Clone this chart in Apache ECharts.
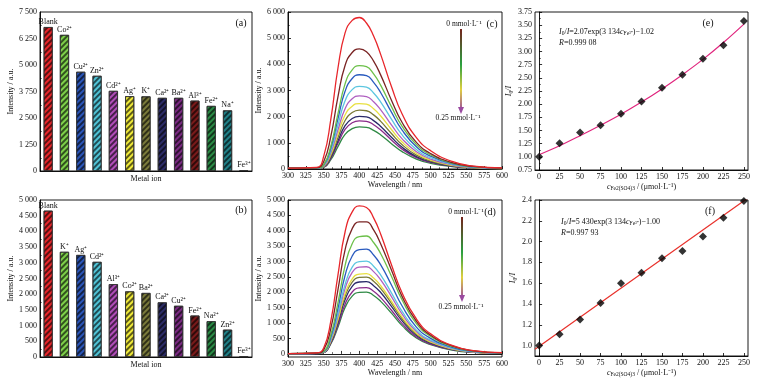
<!DOCTYPE html>
<html>
<head>
<meta charset="utf-8">
<script src="https://cdn.jsdelivr.net/npm/echarts@6/dist/echarts.min.js"></script>
<style>html,body{margin:0;padding:0;background:#fff}#chart{width:765px;height:383px}</style>
</head>
<body>
<div id="chart"></div>
<script>
// (a) / (b) interference bars
const ions_a = ['Blank', 'Co²⁺', 'Cu²⁺', 'Zn²⁺', 'Cd²⁺', 'Ag⁺', 'K⁺', 'Ca²⁺', 'Ba²⁺', 'Al³⁺', 'Fe²⁺', 'Na⁺', 'Fe³⁺']
const vals_a = [6790, 6420, 4680, 4490, 3780, 3530, 3520, 3450, 3450, 3320, 3070, 2860, 40]
const ions_b = ['Blank', 'K⁺', 'Ag⁺', 'Cd²⁺', 'Al³⁺', 'Co²⁺', 'Ba²⁺', 'Ca²⁺', 'Cu²⁺', 'Fe²⁺', 'Na²⁺', 'Zn²⁺', 'Fe³⁺']
const vals_b = [4660, 3350, 3250, 3030, 2320, 2090, 2040, 1740, 1630, 1320, 1140, 870, 20]
const bar_colors = ['#e8262b', '#7ed04a', '#2a55b8', '#4fc3d6', '#b04db8', '#f0ea3a', '#7a7a3a', '#2b2b66', '#7a2a82', '#7a1a1a', '#2a8a45', '#1f7f86', '#ffffff']

// (c) / (d) emission spectra, wavelength in nm
const wl = [300, 340, 350, 360, 370, 380, 390, 400, 410, 420, 430, 445, 460, 480, 500, 530, 560, 600]
const spec_c = [
    [30, 60, 480, 1900, 3850, 5200, 5680, 5790, 5580, 5080, 4370, 3150, 2100, 1200, 700, 290, 110, 40],
    [30, 45, 276, 1242, 2760, 3956, 4453, 4591, 4485, 4122, 3588, 2631, 1776, 1017, 589, 248, 97, 37],
    [30, 40, 159, 873, 2104, 3255, 3791, 3950, 3910, 3633, 3196, 2382, 1628, 933, 536, 226, 87, 32],
    [30, 38, 145, 796, 1919, 2968, 3457, 3602, 3566, 3312, 2914, 2172, 1484, 851, 489, 206, 80, 29],
    [30, 36, 127, 699, 1683, 2604, 3032, 3159, 3127, 2905, 2556, 1905, 1302, 746, 429, 181, 70, 25],
    [30, 35, 112, 618, 1489, 2304, 2684, 2796, 2768, 2571, 2262, 1686, 1152, 660, 379, 160, 62, 22],
    [30, 34, 101, 553, 1333, 2062, 2402, 2502, 2477, 2301, 2025, 1509, 1031, 591, 340, 143, 55, 20],
    [30, 33, 90, 497, 1198, 1853, 2158, 2249, 2226, 2068, 1819, 1356, 927, 531, 305, 129, 50, 18],
    [30, 32, 81, 444, 1071, 1656, 1929, 2010, 1990, 1848, 1626, 1212, 828, 475, 273, 115, 44, 16],
    [30, 31, 74, 407, 981, 1517, 1767, 1841, 1822, 1693, 1489, 1110, 759, 435, 250, 105, 41, 15],
    [30, 30, 65, 355, 856, 1324, 1542, 1607, 1591, 1478, 1300, 969, 662, 380, 218, 92, 36, 13]
]
const spec_d = [
    [10, 34, 193, 1063, 2560, 3961, 4613, 4806, 4758, 4419, 3888, 2898, 1980, 1135, 652, 275, 106, 39],
    [10, 28, 130, 823, 2078, 3377, 4070, 4287, 4287, 4027, 3572, 2728, 1862, 1061, 606, 260, 100, 37],
    [10, 23, 77, 616, 1656, 2868, 3581, 3812, 3831, 3619, 3253, 2522, 1752, 982, 570, 243, 92, 35],
    [10, 21, 68, 547, 1471, 2548, 3181, 3386, 3403, 3215, 2890, 2240, 1556, 872, 506, 215, 82, 31],
    [10, 18, 61, 485, 1303, 2257, 2818, 3000, 3015, 2848, 2560, 1985, 1379, 773, 448, 191, 73, 27],
    [10, 17, 57, 455, 1223, 2120, 2646, 2817, 2831, 2674, 2404, 1863, 1294, 725, 421, 179, 68, 26],
    [10, 16, 52, 419, 1127, 1952, 2437, 2594, 2607, 2463, 2214, 1716, 1192, 668, 388, 165, 63, 24],
    [10, 15, 50, 402, 1079, 1870, 2334, 2485, 2497, 2359, 2121, 1644, 1142, 640, 371, 158, 60, 23],
    [10, 14, 47, 378, 1015, 1758, 2195, 2336, 2348, 2218, 1994, 1546, 1074, 602, 349, 149, 57, 21],
    [10, 13, 43, 346, 931, 1613, 2013, 2143, 2154, 2035, 1829, 1418, 985, 552, 320, 136, 52, 19],
    [10, 12, 40, 323, 869, 1505, 1879, 2000, 2010, 1899, 1707, 1323, 919, 515, 299, 127, 48, 18]
]
const spec_colors = ['#e8262b', '#7a2424', '#6cc04a', '#2a5bbf', '#5cc6e0', '#b060c0', '#e8e040', '#7a7a36', '#2a2a6a', '#8a2a8a', '#2f8a45']

// (e) / (f) Stern-Volmer style plots, concentration in umol/L
const conc = [0, 25, 50, 75, 100, 125, 150, 175, 200, 225, 250]
const ratio_e = [1.00, 1.26, 1.46, 1.60, 1.82, 2.05, 2.31, 2.56, 2.86, 3.12, 3.58]
const fit_e = [1.04, 1.21, 1.40, 1.60, 1.81, 2.04, 2.29, 2.56, 2.85, 3.17, 3.52]
const ratio_f = [1.00, 1.11, 1.25, 1.41, 1.60, 1.70, 1.84, 1.91, 2.05, 2.23, 2.39]
const fit_f_x = [-5, 255]
const fit_f_y = [0.965, 2.42]

const ticks_d = [0, 500, 1000, 1500, 2000, 2500, 3000, 3500, 4000, 4500, 5000]
const ticks_f = [1.0, 1.2, 1.4, 1.6, 1.8, 2.0, 2.2, 2.4]

const FONT = 'Liberation Serif'

function thousands(v) {
    if (v < 1000) return String(v)
    return Math.floor(v / 1000) + ' ' + String(v % 1000).padStart(3, '0')
}
function zip(xs, ys) {
    return xs.map((x, i) => [x, ys[i]])
}

const tickStyle = {inside: true, length: 3, lineStyle: {color: '#000', width: 0.8}}
const minorStyle = {show: true, splitNumber: 2, length: 1.8, lineStyle: {color: '#000', width: 0.6}}
const lineAx = {lineStyle: {color: '#000', width: 0.9}}
const lblStyle = {fontSize: 8, color: '#111', fontFamily: FONT, margin: 3}
const nameStyle = {fontSize: 8, color: '#111', fontFamily: FONT}
const subRich = {
    i: {fontStyle: 'italic', fontSize: 8, fontFamily: FONT, color: '#111'},
    n: {fontSize: 8, fontFamily: FONT, color: '#111'},
    sub: {fontSize: 5.5, fontFamily: FONT, color: '#111', verticalAlign: 'bottom', padding: [4, 0, 0, 0]}
}

function valueY(gi, min, max, interval, name, gap, fmt) {
    return {
        type: 'value', gridIndex: gi, min: min, max: max, interval: interval,
        name: name, nameLocation: 'middle', nameGap: gap, nameTextStyle: Object.assign({rich: subRich}, nameStyle),
        axisLine: Object.assign({show: true}, lineAx), axisTick: tickStyle, minorTick: minorStyle,
        splitLine: {show: false}, axisLabel: Object.assign({formatter: fmt}, lblStyle)
    }
}

function barSeries(gi, names, vals) {
    return {
        type: 'bar', xAxisIndex: gi, yAxisIndex: gi, barWidth: '56%',
        data: vals.map((v, i) => ({value: v, itemStyle: {color: bar_colors[i]}})),
        itemStyle: {
            borderColor: '#333', borderWidth: 0.8,
            decal: {symbol: 'rect', dashArrayX: [1, 0], dashArrayY: [1.4, 1.6], rotation: -Math.PI / 4, color: 'rgba(0,0,0,0.6)'}
        },
        label: {show: true, position: 'top', distance: 1, formatter: '{b}', fontSize: 8, fontFamily: FONT, color: '#111'}
    }
}

function specSeries(gi, curves) {
    return curves.map((c, i) => ({
        type: 'line', xAxisIndex: gi, yAxisIndex: gi, showSymbol: false, smooth: true,
        data: zip(wl, c), lineStyle: {color: spec_colors[i], width: 1.3}, itemStyle: {color: spec_colors[i]}, z: 20 - i
    }))
}

function arrow(x, y0, y1) {
    return [{
        type: 'line', shape: {x1: x, y1: y0, x2: x, y2: y1 - 6},
        style: {lineWidth: 2, stroke: new echarts.graphic.LinearGradient(0, 0, 0, 1, [
            {offset: 0, color: '#7a1a1a'}, {offset: 0.45, color: '#2aa040'},
            {offset: 0.75, color: '#e0d040'}, {offset: 1, color: '#9a4aa0'}])}
    }, {
        type: 'polygon', shape: {points: [[x - 3, y1 - 7], [x + 3, y1 - 7], [x, y1]]}, style: {fill: '#9a4aa0'}
    }]
}

function txt(x, y, text, size, align) {
    return {type: 'text', x: x, y: y, style: {text: text, fontSize: size, fontFamily: FONT, fill: '#111', align: align || 'center', verticalAlign: 'middle', rich: subRich}}
}

const xMetal = gi => ({
    type: 'category', gridIndex: gi, data: gi === 0 ? ions_a : ions_b, name: 'Metal ion', nameLocation: 'middle', nameGap: 4,
    nameTextStyle: nameStyle, axisLine: lineAx, axisTick: {inside: true, length: 2, lineStyle: {color: '#000', width: 0.6}},
    axisLabel: {show: false}
})
const xWave = (gi, gap) => ({
    type: 'value', gridIndex: gi, min: 300, max: 600, interval: 25, name: 'Wavelength / nm', nameLocation: 'middle', nameGap: gap,
    nameTextStyle: nameStyle, axisLine: lineAx, axisTick: tickStyle, minorTick: minorStyle, splitLine: {show: false}, axisLabel: lblStyle
})
const xConc = gi => ({
    type: 'value', gridIndex: gi, min: -5, max: 255,
    name: '{i|c}{sub|Fe2(SO4)3}{n| / (μmol·L⁻¹)}', nameLocation: 'middle', nameGap: 12,
    nameTextStyle: Object.assign({rich: subRich}, nameStyle), axisLine: lineAx,
    axisTick: Object.assign({customValues: conc}, tickStyle), splitLine: {show: false},
    axisLabel: Object.assign({customValues: conc}, lblStyle)
})

const grids = [
    {left: 40, top: 12, width: 212, height: 159},
    {left: 40, top: 200, width: 212, height: 157},
    {left: 288, top: 12, width: 214, height: 157},
    {left: 288, top: 200, width: 214, height: 157},
    {left: 535, top: 12, width: 213, height: 158},
    {left: 535, top: 200, width: 213, height: 156}
].map(g => Object.assign({show: true, borderColor: '#000', borderWidth: 0.9, backgroundColor: 'transparent'}, g))

const yD = valueY(3, -100, 5000, 500, 'Intensity / a.u.', 22, thousands)
delete yD.interval
yD.axisLabel.customValues = ticks_d
yD.axisTick = Object.assign({customValues: ticks_d}, tickStyle)
yD.minorTick = {show: false}

const yF = valueY(5, 0.9, 2.4, 0.2, '{i|I}{sub|0}{i|/I}', 14, v => v.toFixed(1))
delete yF.interval
yF.axisLabel.customValues = ticks_f
yF.axisTick = Object.assign({customValues: ticks_f}, tickStyle)
yF.minorTick = {show: false}

const option = {
    backgroundColor: '#fff',
    animation: false,
    textStyle: {fontFamily: FONT},
    grid: grids,
    xAxis: [xMetal(0), xMetal(1), xWave(2, 11), xWave(3, 12), xConc(4), xConc(5)],
    yAxis: [
        valueY(0, 0, 7500, 1250, 'Intensity / a.u.', 23, thousands),
        valueY(1, 0, 5000, 500, 'Intensity / a.u.', 23, thousands),
        valueY(2, 0, 6000, 1000, 'Intensity / a.u.', 22, thousands),
        yD,
        valueY(4, 0.75, 3.75, 0.25, '{i|I}{sub|0}{i|/I}', 19, v => v.toFixed(2)),
        yF
    ],
    series: [
        barSeries(0, ions_a, vals_a),
        barSeries(1, ions_b, vals_b),
        ...specSeries(2, spec_c),
        ...specSeries(3, spec_d),
        {type: 'line', xAxisIndex: 4, yAxisIndex: 4, data: zip(conc, fit_e), smooth: 0.4, showSymbol: false,
            lineStyle: {color: '#e0267e', width: 1.2}, itemStyle: {color: '#e0267e'}},
        {type: 'scatter', xAxisIndex: 4, yAxisIndex: 4, data: zip(conc, ratio_e), symbol: 'diamond', symbolSize: 8,
            itemStyle: {color: '#000'}, z: 5},
        {type: 'line', xAxisIndex: 5, yAxisIndex: 5, data: zip(fit_f_x, fit_f_y), showSymbol: false,
            lineStyle: {color: '#e8302a', width: 1.2}, itemStyle: {color: '#e8302a'}},
        {type: 'scatter', xAxisIndex: 5, yAxisIndex: 5, data: zip(conc, ratio_f), symbol: 'diamond', symbolSize: 8,
            itemStyle: {color: '#000'}, z: 5}
    ],
    graphic: [
        txt(241, 23, '(a)', 10),
        txt(241, 210, '(b)', 10),
        txt(492, 24, '(c)', 10),
        txt(490, 212, '(d)', 10),
        txt(708, 23, '(e)', 10),
        txt(710, 211, '(f)', 10),
        txt(464, 24, '0 mmol·L⁻¹', 7.5),
        txt(458, 118, '0.25 mmol·L⁻¹', 7.5),
        txt(466, 212, '0 mmol·L⁻¹', 7.5),
        txt(461, 307, '0.25 mmol·L⁻¹', 7.5),
        ...arrow(461, 29, 114),
        ...arrow(462, 217, 302),
        txt(559, 32, '{i|I}{sub|0}{n|/}{i|I}{n|=2.07exp(3 134}{i|c}{sub|Fe³⁺}{n|)−1.02}', 8, 'left'),
        txt(559, 43, '{i|R}{n|=0.999 08}', 8, 'left'),
        txt(561, 222, '{i|I}{sub|0}{n|/}{i|I}{n|=5 430exp(3 134}{i|c}{sub|Fe³⁺}{n|)−1.00}', 8, 'left'),
        txt(561, 233, '{i|R}{n|=0.997 93}', 8, 'left')
    ]
}

const dom = document.getElementById('chart')
const myChart = echarts.init(dom)
myChart.setOption(option, true)
</script>
</body>
</html>
